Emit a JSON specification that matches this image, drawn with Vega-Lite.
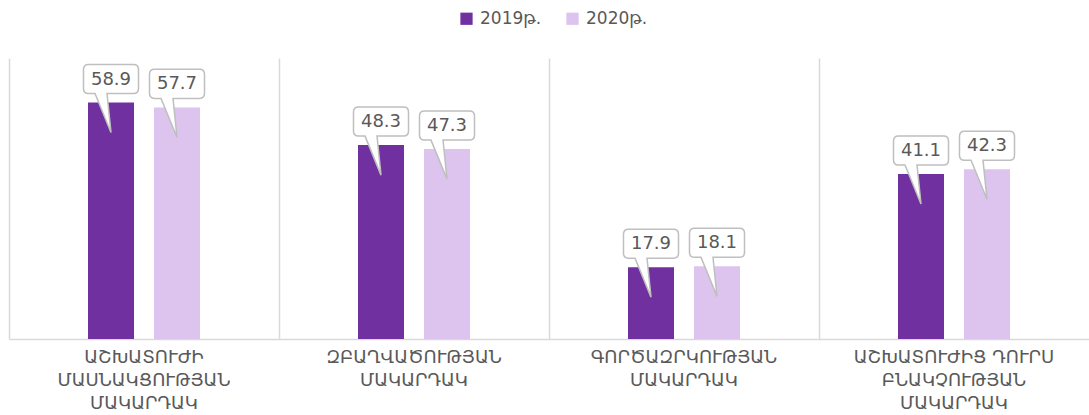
{
  "$schema": "https://vega.github.io/schema/vega-lite/v6.json",
  "width": 1080,
  "height": 281,
  "autosize": {"type": "none"},
  "padding": {"left": 9, "top": 58, "right": 0, "bottom": 76},
  "background": "white",
  "config": {"view": {"stroke": null}, "font": "DejaVu Sans"},
  "data": {
    "values": [
      {"category": "ԱՇԽԱՏՈՒԺԻ ՄԱՍՆԱԿՑՈՒԹՅԱՆ ՄԱԿԱՐԴԱԿ", "year": "2019թ.", "value": 58.9},
      {"category": "ԱՇԽԱՏՈՒԺԻ ՄԱՍՆԱԿՑՈՒԹՅԱՆ ՄԱԿԱՐԴԱԿ", "year": "2020թ.", "value": 57.7},
      {"category": "ԶԲԱՂՎԱԾՈՒԹՅԱՆ ՄԱԿԱՐԴԱԿ", "year": "2019թ.", "value": 48.3},
      {"category": "ԶԲԱՂՎԱԾՈՒԹՅԱՆ ՄԱԿԱՐԴԱԿ", "year": "2020թ.", "value": 47.3},
      {"category": "ԳՈՐԾԱԶՐԿՈՒԹՅԱՆ ՄԱԿԱՐԴԱԿ", "year": "2019թ.", "value": 17.9},
      {"category": "ԳՈՐԾԱԶՐԿՈՒԹՅԱՆ ՄԱԿԱՐԴԱԿ", "year": "2020թ.", "value": 18.1},
      {"category": "ԱՇԽԱՏՈՒԺԻՑ ԴՈՒՐՍ ԲՆԱԿՉՈՒԹՅԱՆ ՄԱԿԱՐԴԱԿ", "year": "2019թ.", "value": 41.1},
      {"category": "ԱՇԽԱՏՈՒԺԻՑ ԴՈՒՐՍ ԲՆԱԿՉՈՒԹՅԱՆ ՄԱԿԱՐԴԱԿ", "year": "2020թ.", "value": 42.3}
    ]
  },
  "encoding": {
    "x": {
      "field": "category",
      "type": "nominal",
      "sort": ["ԱՇԽԱՏՈՒԺԻ ՄԱՍՆԱԿՑՈՒԹՅԱՆ ՄԱԿԱՐԴԱԿ", "ԶԲԱՂՎԱԾՈՒԹՅԱՆ ՄԱԿԱՐԴԱԿ", "ԳՈՐԾԱԶՐԿՈՒԹՅԱՆ ՄԱԿԱՐԴԱԿ", "ԱՇԽԱՏՈՒԺԻՑ ԴՈՒՐՍ ԲՆԱԿՉՈՒԹՅԱՆ ՄԱԿԱՐԴԱԿ"],
      "scale": {"paddingInner": 0, "paddingOuter": 0},
      "axis": {
        "title": null,
        "labelAngle": 0,
        "labelExpr": "split(replace(datum.label, 'ԺԻՑ ԴՈՒՐՍ', 'ԺԻՑ\u00a0ԴՈՒՐՍ'), ' ')",
        "labelFontSize": 18,
        "labelColor": "#595959",
        "labelLineHeight": 23,
        "labelPadding": 9,
        "labelLimit": 0,
        "ticks": false,
        "grid": true,
        "bandPosition": 0,
        "gridColor": "#D9D9D9",
        "gridWidth": 1.5,
        "domainColor": "#D9D9D9",
        "domainWidth": 1.5
      }
    },
    "xOffset": {
      "field": "year",
      "type": "nominal",
      "scale": {"range": [79, 191], "paddingInner": 0.303, "paddingOuter": 0}
    },
    "y": {
      "field": "value",
      "type": "quantitative",
      "scale": {"domain": [0, 70]},
      "axis": null
    }
  },
  "layer": [
    {
      "mark": {"type": "bar"},
      "encoding": {
        "color": {
          "field": "year",
          "type": "nominal",
          "scale": {"domain": ["2019թ.", "2020թ."], "range": ["#7030A0", "#DCC4EE"]},
          "legend": {
            "title": null,
            "orient": "none",
            "legendX": 449,
            "legendY": -48,
            "direction": "horizontal",
            "symbolType": "square",
            "symbolSize": 150,
            "symbolStrokeWidth": 0,
            "labelFontSize": 17,
            "labelColor": "#595959",
            "labelOffset": 5,
            "columnPadding": 22
          }
        }
      }
    },
    {
      "mark": {
        "type": "point",
        "filled": true,
        "fill": "white",
        "opacity": 1,
        "stroke": "#BFBFBF",
        "strokeWidth": 1.5,
        "size": 3600,
        "shape": "M -0.133 -0.3 L 0.75 -0.3 Q 0.917 -0.3 0.917 -0.467 L 0.917 -1.1 Q 0.917 -1.267 0.75 -1.267 L -0.75 -1.267 Q -0.917 -1.267 -0.917 -1.1 L -0.917 -0.467 Q -0.917 -0.3 -0.75 -0.3 L -0.533 -0.3 L 0 1 Z"
      },
      "encoding": {}
    },
    {
      "mark": {"type": "text", "dy": -23, "baseline": "middle", "align": "center", "fontSize": 18, "color": "#595959"},
      "encoding": {"text": {"field": "value", "type": "quantitative", "format": ".1f"}}
    }
  ]
}
